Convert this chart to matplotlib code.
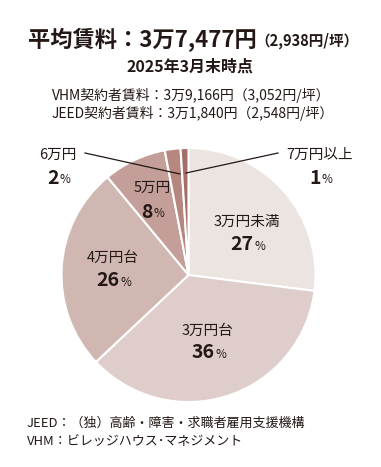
import matplotlib
matplotlib.use("Agg")
import matplotlib.pyplot as plt

plt.rcParams['font.family'] = ['Noto Sans CJK JP', 'DejaVu Sans']

categories = ['3万円未満', '3万円台', '4万円台', '5万円', '6万円', '7万円以上']
shares = [27, 36, 26, 8, 2, 1]
colors = ['#ECE4E1', '#DECDCA', '#D1B7B2', '#C49F99', '#B5877F', '#A66E68']

title_main = '平均賃料：3万7,477円'
title_sub = '（2,938円/坪）'
date_label = '2025年3月末時点'
info_lines = ['VHM契約者賃料：3万9,166円（3,052円/坪）',
              'JEED契約者賃料：3万1,840円（2,548円/坪）']
notes = ['JEED：（独）高齢・障害・求職者雇用支援機構',
         'VHM：ビレッジハウス･マネジメント']

W, H = 381, 467
TXT = '#231815'
fig = plt.figure(figsize=(W / 100, H / 100), dpi=100)

def fx(x):
    return x / W

def fy(y):
    return 1 - y / H

# pie axes: centre (188,275), radius 127 px
cx, cy, r = 188.5, 275, 127
ax = fig.add_axes([fx(cx - r), fy(cy + r), 2 * r / W, 2 * r / H])
ax.pie(shares, colors=colors, startangle=90, counterclock=False,
       wedgeprops=dict(edgecolor='white', linewidth=1.5))
ax.set_xlim(-1, 1)
ax.set_ylim(-1, 1)
ax.set_aspect('equal')
ax.axis('off')

# titles
t1 = fig.text(fx(28), fy(40), title_main, fontsize=16, fontweight='bold',
              color=TXT, ha='left', va='center')
fig.canvas.draw()
bb = t1.get_window_extent()
fig.text(bb.x1 / W - 0.004, fy(41), title_sub, fontsize=10.5, fontweight='bold',
         color=TXT, ha='left', va='center')
fig.text(fx(190), fy(67), date_label, fontsize=11.5, fontweight='bold',
         color=TXT, ha='center', va='center')
fig.text(fx(52), fy(95), info_lines[0], fontsize=10, color=TXT,
         ha='left', va='center')
fig.text(fx(52), fy(113), info_lines[1], fontsize=10, color=TXT,
         ha='left', va='center')

def label(x, y1, y2, name, pct):
    fig.text(fx(x), fy(y1), name, fontsize=10.5, color=TXT,
             ha='center', va='center')
    num = fig.text(fx(x - 5), fy(y2), str(pct), fontsize=14,
                   fontweight='bold', color=TXT, ha='center', va='center')
    fig.canvas.draw()
    b = num.get_window_extent()
    fig.text(b.x1 / W + 0.002, b.y0 / H + 0.004, '%', fontsize=8.5,
             color=TXT, ha='left', va='bottom')

label(247, 222, 245, categories[0], shares[0])
label(208, 331, 353, categories[1], shares[1])
label(113, 258, 281, categories[2], shares[2])
label(152, 188, 212, categories[3], shares[3])
label(58, 155, 178, categories[4], shares[4])
label(320, 155, 178, categories[5], shares[5])

# leader lines
fig.add_artist(plt.Line2D([fx(85), fx(180)], [fy(153), fy(174)],
                          color=TXT, linewidth=0.9))
fig.add_artist(plt.Line2D([fx(278), fx(186)], [fy(153), fy(173)],
                          color=TXT, linewidth=0.9))

fig.text(fx(27), fy(423), notes[0], fontsize=9.4, color=TXT,
         ha='left', va='center')
fig.text(fx(27), fy(441), notes[1], fontsize=9.4, color=TXT,
         ha='left', va='center')

fig.savefig('out.png', dpi=100, facecolor='white')
